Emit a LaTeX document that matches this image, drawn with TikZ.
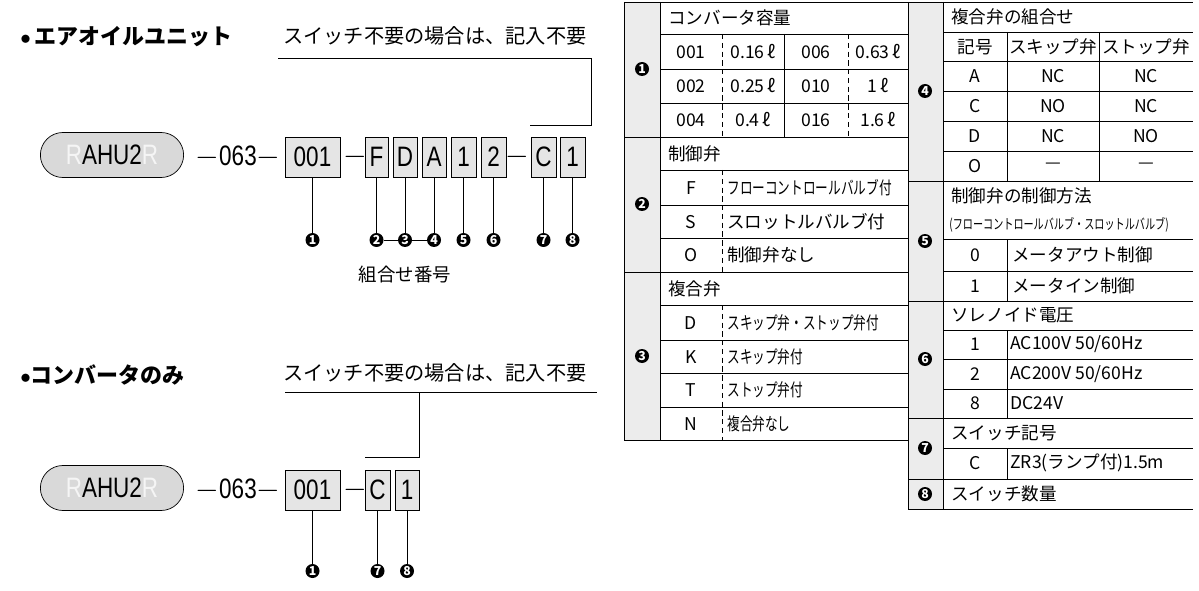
\documentclass[tikz,border=0pt]{standalone}
\usepackage{fontspec}
\setmainfont{Noto Sans CJK JP}
\newfontfamily\narrowf[FakeStretch=0.8]{Liberation Sans}
\newfontfamily\condjp[FakeStretch=0.72]{Noto Sans CJK JP}
\usetikzlibrary{shapes.misc}

\tikzset{
  num/.style={circle, fill=black, text=white, inner sep=0pt, minimum size=0.28cm, font=\bfseries\fontsize{7}{7}\selectfont},
  code/.style={draw, fill=gray!20, minimum height=0.8cm, inner sep=0pt, font=\narrowf\fontsize{16}{16}\selectfont},
  pill/.style={draw, rounded rectangle, fill=gray!30, minimum width=3.1cm, minimum height=0.9cm, font=\narrowf\fontsize{16}{16}\selectfont},
  tx/.style={inner sep=0pt, font=\fontsize{10}{10}\selectfont},
  lab/.style={inner sep=0pt, anchor=west, font=\fontsize{10}{10}\selectfont}
}
\newcommand{\ghostR}{{\color{gray!8}R}}

\begin{document}
\begin{tikzpicture}[x=0.02cm, y=-0.02cm]
    \useasboundingbox (0,0) rectangle (1199,591);

    % air-oil unit
    \node [anchor=west, inner sep=0pt, font=\bfseries\fontsize{12.5}{12.5}\selectfont] (t1) at (20,37) {$\bullet$\,エアオイルユニット};
    \node [anchor=west, inner sep=0pt, font=\fontsize{11.5}{11.5}\selectfont] (s1) at (283,36) {スイッチ不要の場合は、記入不要};
    \coordinate (s1a) at (278,58);
    \coordinate (s1b) at (591,58);
    \coordinate (s1c) at (530,125);
    \draw (s1a) -- (s1b) |- (s1c);

    \node [pill] (p1) at (112,155) {\ghostR AHU2\ghostR};
    \node [tx, font=\narrowf\fontsize{16}{16}\selectfont] (m1) at (238,157) {$-$063$-$};
    \node [code, minimum width=1.1cm] (a1) at (312.5,157) {001};
    \node [tx, font=\narrowf\fontsize{16}{16}\selectfont] (d1) at (355,157) {$-$};
    \node [code, minimum width=0.46cm] (a2) at (376.5,157) {F};
    \node [code, minimum width=0.48cm] (a3) at (405,157) {D};
    \node [code, minimum width=0.48cm] (a4) at (434,157) {A};
    \node [code, minimum width=0.5cm] (a5) at (463.5,157) {1};
    \node [code, minimum width=0.5cm] (a6) at (493.5,157) {2};
    \node [tx, font=\narrowf\fontsize{16}{16}\selectfont] (d2) at (517,157) {$-$};
    \node [code, minimum width=0.5cm] (a7) at (543.5,157) {C};
    \node [code, minimum width=0.5cm] (a8) at (572.5,157) {1};
    \foreach \i in {1,...,8} {
        \node [num] (n\i) at (a\i.south |- 0,240) {\i};
        \draw (a\i.south) -- (n\i.north);
    }
    \draw (n2) -- (n4);
    \node [tx, font=\fontsize{10.5}{10.5}\selectfont] (k1) at (405,275) {組合せ番号};

    % converter only
    \node [anchor=west, inner sep=0pt, font=\bfseries\fontsize{12.5}{12.5}\selectfont] (t2) at (20,375) {$\bullet$コンバータのみ};
    \node [anchor=west, inner sep=0pt, font=\fontsize{11.5}{11.5}\selectfont] (s2) at (283,373) {スイッチ不要の場合は、記入不要};
    \coordinate (s2a) at (285,392);
    \coordinate (s2b) at (597,392);
    \coordinate (s2c) at (419,392);
    \coordinate (s2d) at (365,457);
    \draw (s2a) -- (s2b);
    \draw (s2c) |- (s2d);

    \node [pill] (p2) at (112,488) {\ghostR AHU2\ghostR};
    \node [tx, font=\narrowf\fontsize{16}{16}\selectfont] (m2) at (238,490) {$-$063$-$};
    \node [code, minimum width=1.1cm] (c1) at (312.5,490) {001};
    \node [tx, font=\narrowf\fontsize{16}{16}\selectfont] (d3) at (355,490) {$-$};
    \node [code, minimum width=0.5cm] (c7) at (377.5,490) {C};
    \node [code, minimum width=0.48cm] (c8) at (407,490) {1};
    \foreach \i in {1,7,8} {
        \node [num] (r\i) at (c\i.south |- 0,571) {\i};
        \draw (c\i.south) -- (r\i.north);
    }

    % left table
    \fill [gray!15] (624,2) rectangle (660,440);
    \fill [gray!15] (908,2) rectangle (943,509);
    \draw (624,2) -- (1193,2);
    \draw (624,2) -- (624,440) -- (908,440);
    \draw (660,2) -- (660,440);
    \draw (908,2) -- (908,509) -- (1193,509);
    \draw (943,2) -- (943,509);
    \foreach \y in {137,272} \draw (624,\y) -- (908,\y);
    \foreach \y in {181,301,418,479} \draw (908,\y) -- (1193,\y);
    \foreach \y in {34,69,103,170,205,238,305,340,373,407} \draw (660,\y) -- (908,\y);
    \foreach \y in {32,61,91,121,151,239,271,330,359,389,448} \draw (943,\y) -- (1193,\y);
    \draw [densely dashed] (722,34) -- (722,137) (848,34) -- (848,137) (722,170) -- (722,272) (722,305) -- (722,440);
    \draw (784,34) -- (784,137);
    \draw (1007,32) -- (1007,181) (1099,32) -- (1099,181);
    \draw (1007,239) -- (1007,301) (1007,330) -- (1007,418) (1007,448) -- (1007,479);

    \foreach \i/\y in {1/69,2/204,3/356} \node [num] (q\i) at (642,\y) {\i};
    \foreach \i/\y in {4/91,5/241,6/359,7/448,8/494} \node [num] (q\i) at (925,\y) {\i};

    \node [lab] (h1) at (668,18) {コンバータ容量};
    \foreach \a/\b/\c/\d/\y [count=\k] in {001/0.16/006/0.63/52, 002/0.25/010/1/86, 004/0.4/016/1.6/120} {
        \node [tx] (v\k a) at (691,\y) {\a};
        \node [tx] (v\k b) at (753,\y) {\b\,ℓ};
        \node [tx] (v\k c) at (816,\y) {\c};
        \node [tx] (v\k d) at (878,\y) {\d\,ℓ};
    }
    \node [lab] (h2) at (668,154) {制御弁};
    \node [tx] (f1) at (691,188) {F};
    \node [lab, font=\condjp\fontsize{10}{10}\selectfont] (f2) at (727,188) {フローコントロールバルブ付};
    \node [tx] (g1) at (691,222) {S};
    \node [lab] (g2) at (727,222) {スロットルバルブ付};
    \node [tx] (o1) at (691,255) {O};
    \node [lab] (o2) at (727,255) {制御弁なし};
    \node [lab] (h3) at (668,289) {複合弁};
    \foreach \a/\b/\y [count=\k] in {D/スキップ弁・ストップ弁付/323, K/スキップ弁付/357, T/ストップ弁付/390, N/複合弁なし/424} {
        \node [tx] (w\k a) at (691,\y) {\a};
        \node [lab, font=\condjp\fontsize{10}{10}\selectfont] (w\k b) at (727,\y) {\b};
    }

    % right table
    \node [lab] (h4) at (951,17) {複合弁の組合せ};
    \node [tx] (x0a) at (975,47) {記号};
    \node [tx] (x0b) at (1053,47) {スキップ弁};
    \node [tx] (x0c) at (1146,47) {ストップ弁};
    \foreach \a/\b/\c/\y [count=\k] in {A/NC/NC/76, C/NO/NC/106, D/NC/NO/136, O/---/---/166} {
        \node [tx] (x\k a) at (975,\y) {\a};
        \node [tx] (x\k b) at (1053,\y) {\b};
        \node [tx] (x\k c) at (1146,\y) {\c};
    }
    \node [lab] (h5) at (951,196) {制御弁の制御方法};
    \node [lab, font=\condjp\fontsize{8}{8}\selectfont] (h5b) at (949,225) {(フローコントロールバルブ・スロットルバルブ)};
    \node [tx] (y1a) at (975,255) {0};
    \node [lab] (y1b) at (1012,255) {メータアウト制御};
    \node [tx] (y2a) at (975,286) {1};
    \node [lab] (y2b) at (1012,286) {メータイン制御};
    \node [lab] (h6) at (951,315) {ソレノイド電圧};
    \foreach \a/\b/\y [count=\k] in {1/{AC100V 50/60Hz}/344, 2/{AC200V 50/60Hz}/374, 8/DC24V/403} {
        \node [tx] (z\k a) at (975,\y) {\a};
        \node [lab] (z\k b) at (1010,\y) {\b};
    }
    \node [lab] (h7) at (951,433) {スイッチ記号};
    \node [tx] (u1a) at (975,463) {C};
    \node [lab] (u1b) at (1010,463) {ZR3(ランプ付)1.5m};
    \node [lab] (h8) at (951,494) {スイッチ数量};
\end{tikzpicture}
\end{document}
